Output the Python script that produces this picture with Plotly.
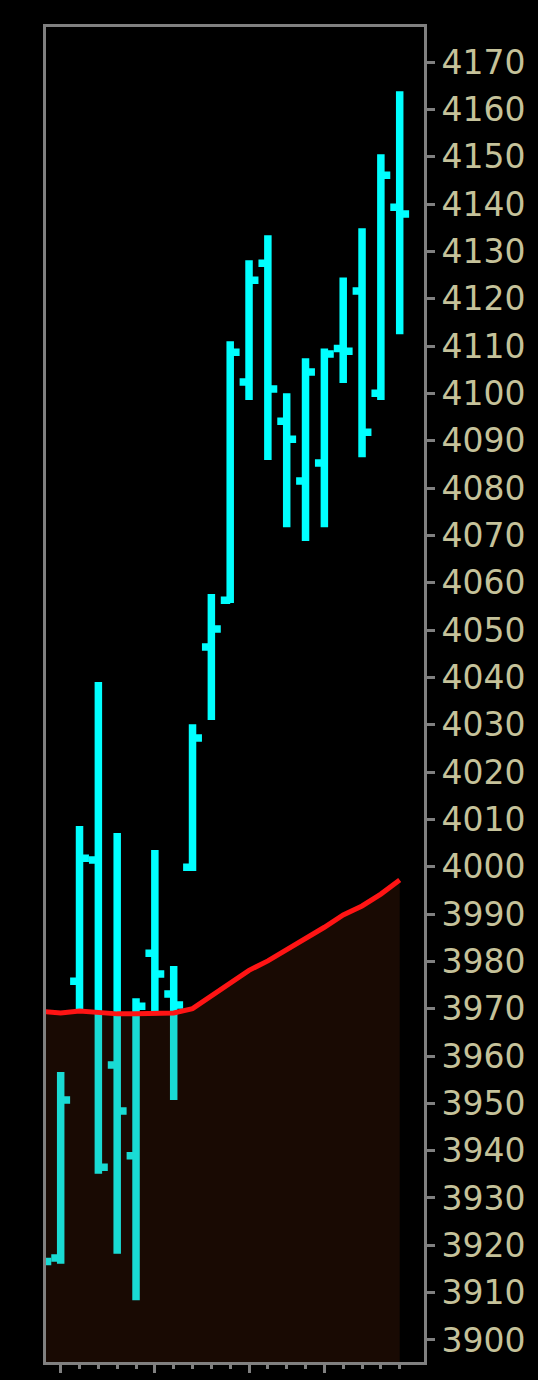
import plotly.graph_objects as go

# bar index (-1 is the bar cut off by the left edge)
bar_idx = list(range(-1, 19))

opens = [3917.0, 3917.3, 3975.8, 4001.4, 3958.1, 3938.9, 3981.7, 3973.1, 3999.9, 4046.4, 4056.3,
         4102.4, 4127.5, 4094.1, 4081.5, 4085.3, 4109.5, 4121.6, 4100.0, 4139.3]
highs = [3918.0, 3956.6, 4008.6, 4039.0, 4007.1, 3972.2, 4003.5, 3979.0, 4030.1, 4057.6, 4111.0,
         4128.1, 4133.4, 4100.0, 4107.4, 4109.5, 4124.5, 4134.9, 4150.5, 4163.8]
lows = [3915.5, 3916.1, 3969.5, 3935.1, 3918.2, 3908.4, 3969.5, 3950.7, 3999.1, 4031.0, 4055.7,
        4098.6, 4085.9, 4071.7, 4068.8, 4071.7, 4102.2, 4086.5, 4098.6, 4112.5]
closes = [3916.6, 3950.7, 4001.8, 3936.5, 3948.4, 3970.5, 3977.3, 3970.8, 4027.2, 4050.2, 4108.7,
          4123.9, 4100.9, 4090.3, 4104.5, 4108.3, 4108.9, 4091.8, 4146.1, 4137.9]

# moving average line
ma = [3969.4, 3969.1, 3969.5, 3969.1, 3968.9, 3968.9, 3968.9, 3969.1, 3970.0, 3972.7, 3975.6,
      3978.1, 3980.1, 3982.4, 3984.6, 3987.2, 3989.8, 3991.7, 3994.2, 3997.2]

major_ticks = [0, 5, 10, 14]
major_labels = ["20", "27", "Jul", "10"]
minor_ticks = list(range(19))

BAR = "#00ffff"
GREY = "#808080"
TXT = "#c5c29a"
FONT = "DejaVu Sans"

fig = go.Figure()
fig.add_trace(go.Ohlc(
    x=bar_idx, open=opens, high=highs, low=lows, close=closes,
    increasing=dict(line=dict(color=BAR, width=7.5)),
    decreasing=dict(line=dict(color=BAR, width=7.5)),
    tickwidth=0.5, showlegend=False, hoverinfo="skip",
))
fig.add_trace(go.Scatter(
    x=bar_idx, y=ma, mode="lines",
    line=dict(color="#ff1414", width=5),
    fill="tozeroy", fillcolor="rgba(140,55,15,0.18)",
    showlegend=False, hoverinfo="skip",
))

fig.update_layout(
    width=538, height=1380,
    margin=dict(l=46, r=114, t=27, b=18),
    paper_bgcolor="black", plot_bgcolor="black",
    showlegend=False,
    xaxis=dict(
        range=[-0.78, 19.29], rangeslider=dict(visible=False),
        automargin=False,
        showgrid=False, zeroline=False,
        showline=True, mirror=True, linecolor=GREY, linewidth=3,
        ticks="outside", ticklen=8, tickwidth=3, tickcolor=GREY,
        tickmode="array", tickvals=major_ticks, ticktext=major_labels,
        tickfont=dict(family=FONT, size=33, color=TXT),
        minor=dict(tickmode="array", tickvals=minor_ticks, ticks="outside",
                   ticklen=4, tickwidth=3, tickcolor=GREY),
    ),
    yaxis=dict(
        side="right", range=[3895.35, 4177.4],
        automargin=False,
        tickmode="linear", tick0=3900, dtick=10,
        showgrid=False, zeroline=False,
        showline=True, mirror=True, linecolor=GREY, linewidth=3,
        ticks="outside", ticklen=8, tickwidth=3, tickcolor=GREY,
        tickfont=dict(family=FONT, size=33, color=TXT),
    ),
)

fig.write_html("out.html", config={"displayModeBar": False},
               post_script="document.body.style.margin='0';")
